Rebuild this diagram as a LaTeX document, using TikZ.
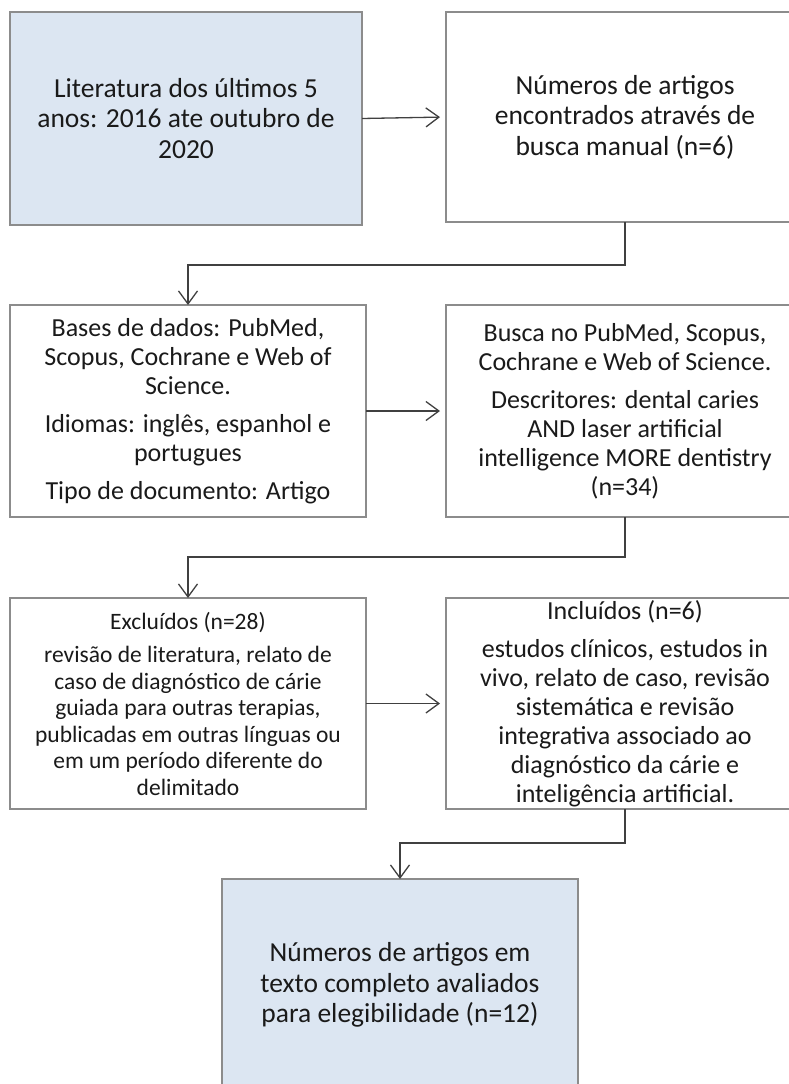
\documentclass[tikz,border=0pt]{standalone}
\usepackage{fontspec}
\setmainfont{Carlito}
\usetikzlibrary{arrows.meta}
\definecolor{boxblue}{HTML}{DCE6F2}
\definecolor{edgegray}{HTML}{8C8C8C}
\definecolor{linegray}{HTML}{404040}
\definecolor{txt}{HTML}{1A1A1A}
\begin{document}
\begin{tikzpicture}[x=1pt,y=-1pt,
  box/.style={draw=edgegray,line width=1.3pt,align=center,inner sep=0pt,outer sep=0pt,text=txt,anchor=north west},
  big/.style={font=\fontsize{27.5}{30.5}\selectfont},
  mid/.style={font=\fontsize{26}{29}\selectfont},
  small/.style={font=\fontsize{23.5}{26.5}\selectfont},
  conn/.style={draw=linegray,line width=1.3pt,-{Straight Barb[length=13pt,width=19pt,line width=1.3pt]}}]
\useasboundingbox (0,0) rectangle (789,1084);
\clip (0,0) rectangle (789,1084);
\fill[white] (0,0) rectangle (789,1084);

\node[box,big,fill=boxblue,minimum width=352,minimum height=213] (a) at (10,12)
  {Literatura dos últimos 5\\anos: 2016 ate outubro de\\2020};
\node[box,big,minimum width=358,minimum height=210] (b) at (446,12)
  {Números de artigos\\encontrados através de\\busca manual (n=6)};

\node[box,mid,minimum width=356,minimum height=212] (c) at (10,305)
  {Bases de dados: PubMed,\\Scopus, Cochrane e Web of\\Science.\\[9pt]Idiomas: inglês, espanhol e\\portugues\\[9pt]Tipo de documento: Artigo};
\node[box,mid,minimum width=358,minimum height=212] (d) at (446,305)
  {Busca no PubMed, Scopus,\\Cochrane e Web of Science.\\[9pt]Descritores: dental caries\\AND laser artificial\\intelligence MORE dentistry\\(n=34)};

\node[box,small,minimum width=356,minimum height=211] (e) at (10,598)
  {Excluídos (n=28)\\[7pt]revisão de literatura, relato de\\caso de diagnóstico de cárie\\guiada para outras terapias,\\publicadas em outras línguas ou\\em um período diferente do\\delimitado};
\node[box,mid,minimum width=358,minimum height=211] (f) at (446,598)
  {Incluídos (n=6)\\[9pt]estudos clínicos, estudos in\\vivo, relato de caso, revisão\\sistemática e revisão\\integrativa associado ao\\diagnóstico da cárie e\\inteligência artificial.};

\node[box,big,fill=boxblue,minimum width=356,minimum height=212] (g) at (222,879)
  {Números de artigos em\\texto completo avaliados\\para elegibilidade (n=12)};

\draw[conn,shorten >=6pt] (a.east) -- (b.west);
\draw[conn] (b.south) -- ++(0,43) -| (c.north);
\draw[conn,shorten >=6pt] (c.east) -- (d.west);
\draw[conn] (d.south) -- ++(0,40) -| (e.north);
\draw[conn,shorten >=6pt] (e.east) -- (f.west);
\draw[conn] (f.south) -- ++(0,34) -| (g.north);
\end{tikzpicture}
\end{document}
